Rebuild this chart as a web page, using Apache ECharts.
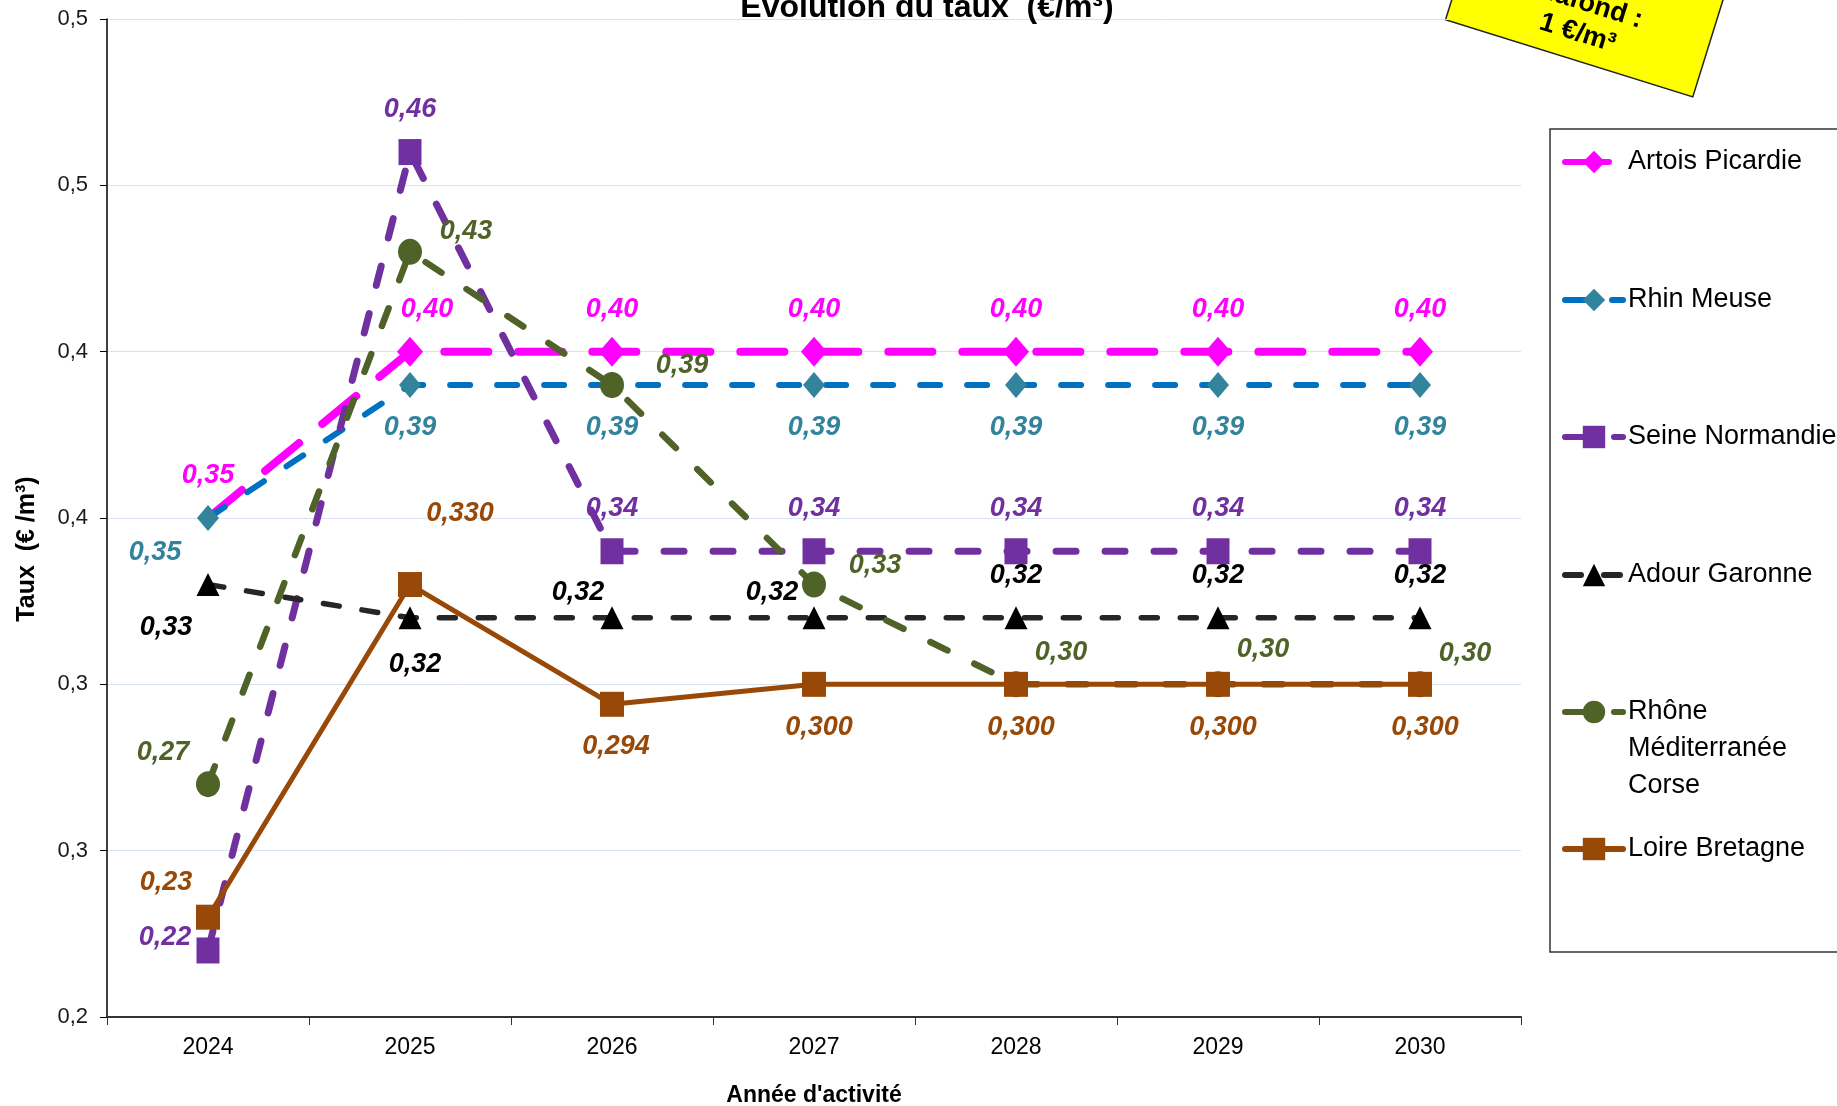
<!DOCTYPE html>
<html>
<head>
<meta charset="utf-8">
<title>Évolution du taux</title>
<script src="https://cdn.jsdelivr.net/npm/echarts@6/dist/echarts.min.js"></script>
<style>
  html, body { margin: 0; padding: 0; background: #fff; }
  #chart { width: 1837px; height: 1106px; }
</style>
</head>
<body>
<div id="chart"></div>
<script>
// données
var years = ['2024', '2025', '2026', '2027', '2028', '2029', '2030'];
var yTickLabels = ['0,2', '0,3', '0,3', '0,4', '0,4', '0,5', '0,5'];

var artoisPicardie    = [0.35, 0.40, 0.40, 0.40, 0.40, 0.40, 0.40];
var rhinMeuse         = [0.35, 0.39, 0.39, 0.39, 0.39, 0.39, 0.39];
var seineNormandie    = [0.22, 0.46, 0.34, 0.34, 0.34, 0.34, 0.34];
var adourGaronne      = [0.33, 0.32, 0.32, 0.32, 0.32, 0.32, 0.32];
var rhoneMediterranee = [0.27, 0.43, 0.39, 0.33, 0.30, 0.30, 0.30];
var loireBretagne     = [0.23, 0.33, 0.294, 0.30, 0.30, 0.30, 0.30];

var FONT = 'Liberation Sans, Arial, sans-serif';

// style de chaque courbe (position des étiquettes à part des données)
var seriesDefs = [
  { name: 'Artois Picardie', data: artoisPicardie, decimals: [2, 2, 2, 2, 2, 2, 2],
    line: '#FF00FF', marker: '#FF00FF', labelColor: '#FF00FF',
    symbol: 'diamond', size: [26, 30], width: 8, dash: [44, 30], noSymbol: [0],
    offsets: [[0, -42], [17, -42], [0, -42], [0, -42], [0, -42], [0, -42], [0, -42]] },
  { name: 'Rhin Meuse', data: rhinMeuse, decimals: [2, 2, 2, 2, 2, 2, 2],
    line: '#0070C0', marker: '#31849B', labelColor: '#31849B',
    symbol: 'diamond', size: [22, 26], width: 6, dash: [20, 27],
    offsets: [[-53, 35], [0, 43], [0, 43], [0, 43], [0, 43], [0, 43], [0, 43]] },
  { name: 'Seine Normandie', data: seineNormandie, decimals: [2, 2, 2, 2, 2, 2, 2],
    line: '#7030A0', marker: '#7030A0', labelColor: '#7030A0',
    symbol: 'rect', size: [23, 26], width: 7, dash: [20, 29],
    offsets: [[-43, -13], [0, -43], [0, -43], [0, -43], [0, -43], [0, -43], [0, -43]] },
  { name: 'Adour Garonne', data: adourGaronne, decimals: [2, 2, 2, 2, 2, 2, 2],
    line: '#262626', marker: '#000000', labelColor: '#000000',
    symbol: 'triangle', size: [23, 23], width: 5.5, dash: [16, 23],
    offsets: [[-42, 43], [5, 47], [-34, -25], [-42, -25], [0, -42], [0, -42], [0, -42]] },
  { name: 'Rhône Méditerranée Corse', data: rhoneMediterranee, decimals: [2, 2, 2, 2, 2, 2, 2],
    line: '#4F6228', marker: '#4F6228', labelColor: '#4F6228',
    symbol: 'circle', size: [24, 26], width: 6.5, dash: [19, 30],
    offsets: [[-45, -32], [56, -20], [70, -19], [61, -19], [45, -32], [45, -35], [45, -31]] },
  { name: 'Loire Bretagne', data: loireBretagne, decimals: [2, 3, 3, 3, 3, 3, 3],
    line: '#984807', marker: '#984807', labelColor: '#984807',
    symbol: 'rect', size: [24, 25], width: 5, dash: 'solid',
    offsets: [[-42, -35], [50, -71], [4, 42], [5, 43], [5, 43], [5, 43], [5, 43]] }
];

var legendCenters = [162, 300, 437, 575, 712, 849];

function makeSeries(s) {
  var hidden = s.noSymbol || [];
  return {
    name: s.name,
    type: 'line',
    data: s.data.map(function (v, i) {
      var item = { value: v, label: { offset: s.offsets[i] } };
      if (hidden.indexOf(i) >= 0) item.symbolSize = 0;
      return item;
    }),
    symbol: s.symbol,
    symbolSize: s.size,
    showAllSymbol: true,
    lineStyle: { color: s.line, width: s.width, type: s.dash, cap: 'round' },
    itemStyle: { color: s.marker },
    label: {
      show: true,
      position: 'inside',
      color: s.labelColor,
      fontSize: 27,
      fontWeight: 'bold',
      fontStyle: 'italic',
      fontFamily: FONT,
      formatter: function (p) {
        return p.value.toFixed(s.decimals[p.dataIndex]).replace('.', ',');
      }
    },
    emphasis: { disabled: true }
  };
}

function makeLegend(s, i) {
  var multi = s.name.indexOf('Rhône') === 0;
  return {
    data: [s.name],
    orient: 'vertical',
    left: 1562,
    top: legendCenters[i] - (multi ? 92.5 : 18.5),
    padding: 0,
    itemWidth: 58,
    itemHeight: 28,
    itemGap: 0,
    selectedMode: false,
    lineStyle: { width: 6 },
    // deux lignes vides pour que l'icône tombe sur « Rhône »
    formatter: function (name) {
      return multi ? '\n\nRhône\nMéditerranée\nCorse' : name;
    },
    textStyle: { fontSize: 27, lineHeight: 37, color: '#000', fontFamily: FONT }
  };
}

var myChart = echarts.init(document.getElementById('chart'), null, { renderer: 'canvas' });

var option = {
  backgroundColor: '#fff',
  animation: false,
  grid: { left: 107, right: 316, top: 19, bottom: 89, containLabel: false, outerBoundsMode: 'none' },
  xAxis: {
    type: 'category',
    data: years,
    boundaryGap: true,
    name: "Année d'activité",
    nameLocation: 'middle',
    nameGap: 67,
    nameTextStyle: { fontSize: 23, fontWeight: 'bold', color: '#000', fontFamily: FONT },
    axisLine: { lineStyle: { color: '#333', width: 2 } },
    axisTick: { show: true, interval: 0, length: 8, lineStyle: { color: '#333', width: 1 } },
    axisLabel: { interval: 0, margin: 19, fontSize: 23, color: '#000', fontFamily: FONT }
  },
  yAxis: {
    type: 'value',
    min: 0.2,
    max: 0.5,
    interval: 0.05,
    axisLine: { show: true, lineStyle: { color: '#000', width: 1.5 } },
    axisTick: { show: true, length: 7, lineStyle: { color: '#000', width: 1 } },
    axisLabel: {
      margin: 19, fontSize: 22, color: '#1a1a1a', fontFamily: FONT,
      formatter: function (v) {
        return yTickLabels[Math.round((v - 0.2) / 0.05)];
      }
    },
    splitLine: { show: true, lineStyle: { color: '#D9E2F3', width: 1 } }
  },
  legend: seriesDefs.map(makeLegend),
  series: seriesDefs.map(makeSeries),
  graphic: [
    { // titre (coupé en haut comme sur l'original)
      type: 'text', x: 927, y: 8, z: 10,
      style: { text: 'Évolution du taux  (€/m³)', align: 'center', verticalAlign: 'middle',
               font: 'bold 32px ' + FONT, fill: '#000' }
    },
    { // titre de l'axe Y
      type: 'text', x: 27, y: 549, rotation: Math.PI / 2, z: 10,
      style: { text: 'Taux  (€ /m³)', align: 'center', verticalAlign: 'middle',
               font: 'bold 25px ' + FONT, fill: '#000' }
    },
    { // cadre de la légende
      type: 'rect', z: 0,
      shape: { x: 1550, y: 129, width: 330, height: 823 },
      style: { fill: 'none', stroke: '#333', lineWidth: 1.5 }
    },
    { // étiquette plafond
      type: 'group', x: 1586, y: 6, rotation: -0.302, z: 10,
      children: [
        { type: 'rect', shape: { x: -130, y: -55, width: 259, height: 110 },
          style: { fill: '#FFFF00', stroke: '#222', lineWidth: 1.5 } },
        { type: 'text', x: 0, y: 13,
          style: { text: 'Plafond :\n1 €/m³', align: 'center', verticalAlign: 'middle',
                   font: 'bold 27px ' + FONT, lineHeight: 31, fill: '#000' } }
      ]
    }
  ]
};

myChart.setOption(option);
window.addEventListener('resize', function () {
  myChart.resize();
});
</script>
</body>
</html>
